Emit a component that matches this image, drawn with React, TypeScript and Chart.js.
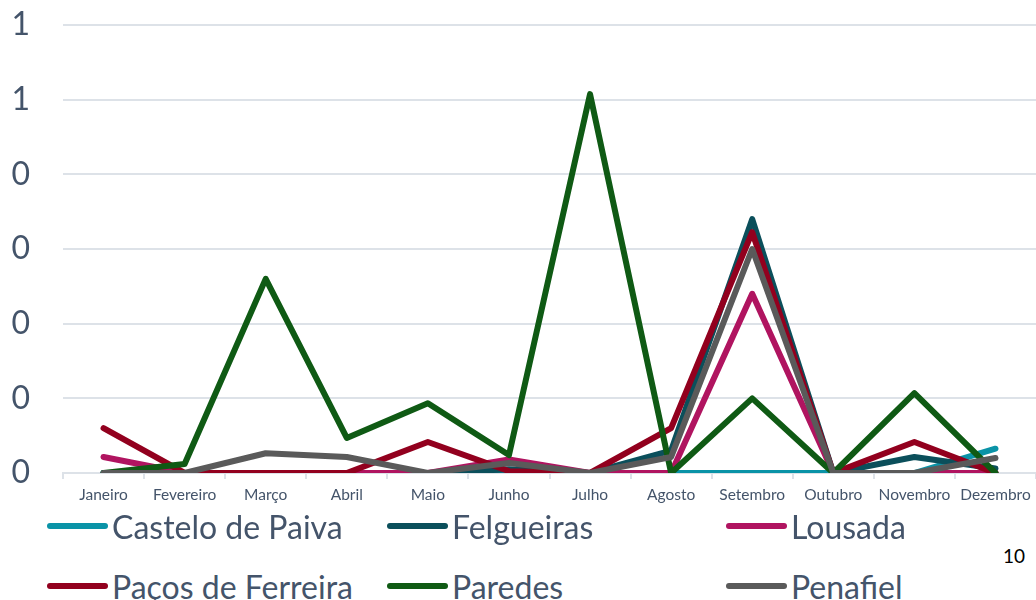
import React, { useEffect, useRef } from "react";
import { Chart, registerables } from "chart.js";

Chart.register(...registerables);

const months = ["Janeiro", "Fevereiro", "Março", "Abril", "Maio", "Junho", "Julho", "Agosto", "Setembro", "Outubro", "Novembro", "Dezembro"];
const casteloDePaiva = [0, 0, 0, 0, 0, 0, 0, 0, 0, 0, 0, 0.065];
const felgueiras = [0, 0, 0, 0, 0, 0.01, 0, 0.06, 0.68, 0, 0.043, 0.012];
const lousada = [0.043, 0, 0, 0, 0, 0.036, 0, 0, 0.48, 0, 0, 0];
const pacosDeFerreira = [0.12, 0, 0, 0, 0.083, 0.005, 0, 0.12, 0.645, 0, 0.083, 0];
const paredes = [0, 0.024, 0.52, 0.094, 0.187, 0.048, 1.015, 0, 0.2, 0, 0.214, 0];
const penafiel = [0, 0, 0.053, 0.043, 0, 0.027, 0, 0.043, 0.6, 0, 0, 0.04];
const yTickLabels = ["0", "0", "0", "0", "0", "1", "1"];

const seriesNames = ["Castelo de Paiva", "Felgueiras", "Lousada", "Paços de Ferreira", "Paredes", "Penafiel"];
const seriesValues = [casteloDePaiva, felgueiras, lousada, pacosDeFerreira, paredes, penafiel];
const seriesColors = ["#0A93A7", "#0B4F5B", "#B01460", "#92001E", "#0F5A14", "#5A5A5A"];

const textColor = "#44546A";
const gridColor = "#DDE2E8";

export default function App() {
  const ref = useRef<HTMLCanvasElement | null>(null);

  useEffect(() => {
    if (!ref.current) return;
    const chart = new Chart(ref.current, {
      type: "line",
      data: {
        labels: months,
        datasets: seriesNames.map((name, i) => ({
          label: name,
          data: seriesValues[i],
          borderColor: seriesColors[i],
          backgroundColor: seriesColors[i],
          borderWidth: 6,
          borderCapStyle: "round",
          borderJoinStyle: "round",
          pointRadius: 0,
          tension: 0,
          order: seriesNames.length - i,
        })),
      },
      options: {
        animation: false,
        responsive: false,
        maintainAspectRatio: false,
        layout: { padding: { top: 25, right: 0, left: 0, bottom: 0 } },
        plugins: {
          legend: { display: false },
          tooltip: { enabled: false },
        },
        scales: {
          x: {
            offset: true,
            grid: {
              display: true,
              offset: true,
              drawOnChartArea: false,
              drawTicks: true,
              tickLength: 6,
              color: gridColor,
              lineWidth: 2,
            },
            border: { display: true, color: gridColor, width: 2 },
            ticks: {
              color: textColor,
              font: { family: "Lato", size: 15.5 },
              autoSkip: false,
              maxRotation: 0,
              minRotation: 0,
              padding: 7,
            },
            afterFit: (scale: any) => {
              scale.height = 37;
              scale.paddingLeft = 0;
              scale.paddingRight = 0;
            },
          },
          y: {
            min: 0,
            max: 1.2,
            grid: { color: gridColor, lineWidth: 2, drawTicks: false },
            border: { display: false },
            ticks: {
              stepSize: 0.2,
              color: textColor,
              font: { family: "Lato", size: 32 },
              padding: 33,
              callback: (_v: any, idx: number) => yTickLabels[idx],
            },
            afterFit: (scale: any) => {
              scale.width = 63;
              scale.paddingTop = 0;
              scale.paddingBottom = 0;
            },
          },
        },
      },
    });
    return () => chart.destroy();
  }, []);

  const legendLeft = [47, 387, 726];
  const legendTop = [527, 587];

  return (
    <div style={{ position: "fixed", left: 0, top: 0, width: 1036, height: 600, background: "#fff", overflow: "hidden" }}>
      <canvas ref={ref} width={1036} height={510} style={{ position: "absolute", left: 0, top: 0, width: 1036, height: 510 }} />
      {seriesNames.map((name, i) => {
        const col = i % 3;
        const row = Math.floor(i / 3);
        return (
          <div
            key={name}
            style={{
              position: "absolute",
              left: legendLeft[col],
              top: legendTop[row] - 21,
              height: 40,
              display: "flex",
              alignItems: "center",
              fontFamily: "Lato",
              fontSize: 32,
              color: textColor,
              whiteSpace: "nowrap",
            }}
          >
            <span style={{ display: "inline-block", width: 61, height: 6, borderRadius: 3, background: seriesColors[i], marginRight: 4 }} />
            <span>{name}</span>
          </div>
        );
      })}
      <div style={{ position: "absolute", left: 1003, top: 544, fontFamily: "Lato", fontSize: 19, color: "#000" }}>10</div>
    </div>
  );
}
